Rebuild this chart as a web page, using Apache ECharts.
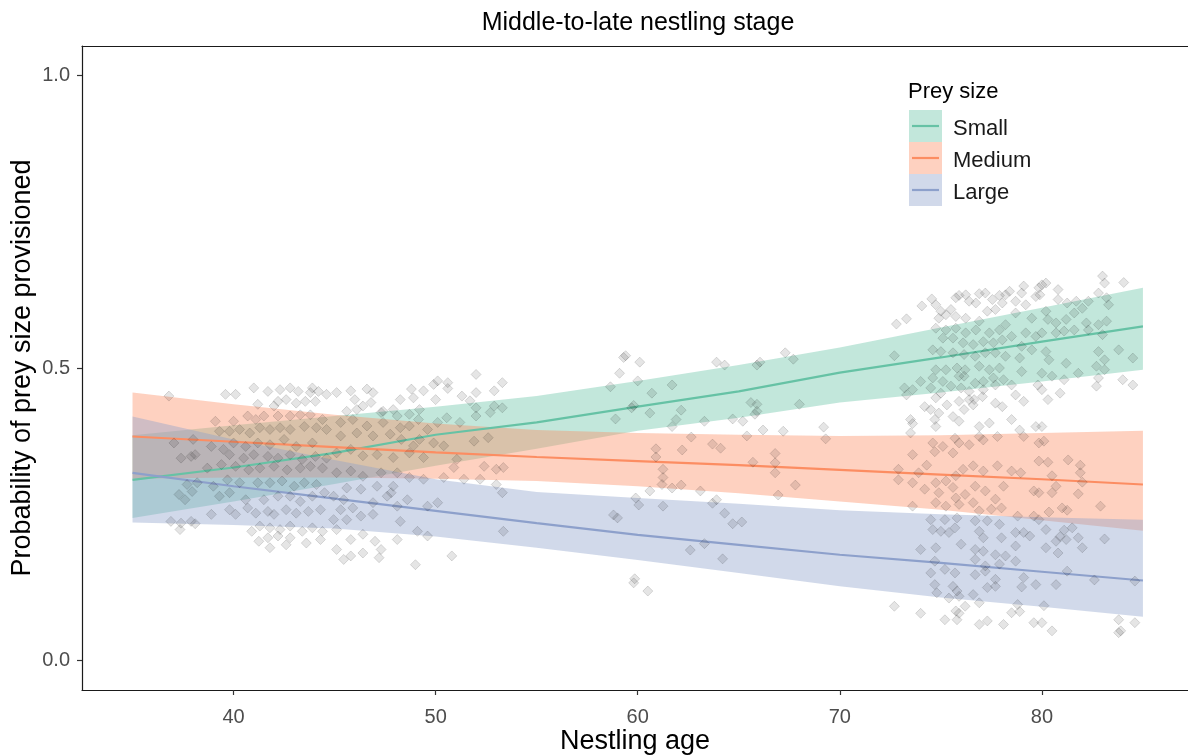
<!DOCTYPE html>
<html>
<head>
<meta charset="utf-8">
<script src="https://cdn.jsdelivr.net/npm/echarts@6/dist/echarts.min.js"></script>
<style>
html,body{margin:0;padding:0;background:#fff;}
#chart{width:1188px;height:756px;}
</style>
</head>
<body>
<div id="chart"></div>
<script>
// ---- Data ----
const chartTitle = 'Middle-to-late nestling stage';
const xTitle = 'Nestling age';
const yTitle = 'Probability of prey size provisioned';
const legendTitle = 'Prey size';
const sizeNames = ['Small', 'Medium', 'Large'];
const xTicks = [40, 50, 60, 70, 80];
const yTicks = [0, 0.5, 1];

const ages = [35, 40, 45, 50, 55, 60, 65, 70, 75, 80, 85];
const smallFit  = [0.309, 0.330, 0.355, 0.386, 0.407, 0.434, 0.460, 0.492, 0.518, 0.545, 0.571];
const smallLow  = [0.244, 0.272, 0.302, 0.333, 0.362, 0.393, 0.415, 0.441, 0.458, 0.477, 0.497];
const smallHigh = [0.385, 0.402, 0.418, 0.434, 0.452, 0.478, 0.505, 0.535, 0.569, 0.603, 0.637];
const mediumFit  = [0.383, 0.374, 0.365, 0.356, 0.348, 0.341, 0.334, 0.326, 0.318, 0.310, 0.301];
const mediumLow  = [0.311, 0.313, 0.313, 0.311, 0.307, 0.298, 0.286, 0.272, 0.258, 0.240, 0.222];
const mediumHigh = [0.458, 0.438, 0.420, 0.405, 0.394, 0.389, 0.386, 0.384, 0.385, 0.389, 0.393];
const largeFit  = [0.321, 0.298, 0.277, 0.256, 0.235, 0.215, 0.198, 0.181, 0.167, 0.152, 0.137];
const largeLow  = [0.236, 0.232, 0.226, 0.212, 0.193, 0.172, 0.150, 0.127, 0.108, 0.092, 0.075];
const largeHigh = [0.417, 0.378, 0.343, 0.310, 0.288, 0.278, 0.268, 0.257, 0.250, 0.245, 0.241];

// observed (jittered) points: [age, probability]
const observations = [
[36.8,0.452],[39.6,0.455],[40.1,0.455],[41.0,0.466],[41.7,0.460],[42.3,0.463],[42.8,0.466],[43.2,0.460],[43.8,0.458],[43.9,0.466],[44.2,0.460],[44.6,0.455],
[42.2,0.443],[42.6,0.446],[43.1,0.440],[43.55,0.443],[44.05,0.443],[41.2,0.438],[42.0,0.435],
[39.1,0.409],[40.0,0.409],[40.7,0.418],[41.1,0.412],[41.5,0.418],[42.2,0.418],[42.8,0.418],[43.3,0.420],[43.8,0.420],[44.4,0.412],
[39.3,0.392],[39.8,0.392],[40.3,0.395],[40.8,0.389],[41.3,0.398],[41.8,0.395],[42.3,0.398],[42.8,0.395],[43.5,0.400],[44.1,0.398],[44.6,0.395],
[37.05,0.372],[38.0,0.378],[38.9,0.366],[39.5,0.361],[40.0,0.372],[40.6,0.366],[41.2,0.372],[41.8,0.369],[42.5,0.378],[43.1,0.366],[43.9,0.372],
[37.4,0.346],[37.9,0.349],[38.1,0.352],[39.8,0.352],[40.5,0.346],[41.0,0.352],[41.7,0.349],[42.2,0.346],[42.8,0.352],[43.4,0.344],[44.05,0.349],[44.6,0.346],
[38.7,0.329],[39.4,0.335],[40.1,0.332],[40.75,0.326],[41.3,0.329],[42.0,0.332],[42.65,0.326],[43.3,0.329],[43.8,0.332],[44.4,0.329],
[37.7,0.301],[38.2,0.304],[39.0,0.298],[39.7,0.309],[40.3,0.304],[41.2,0.304],[41.8,0.304],[42.4,0.307],[43.0,0.298],[43.5,0.304],[44.1,0.301],
[37.3,0.284],[37.95,0.289],[37.6,0.275],[39.3,0.281],[39.8,0.287],[40.6,0.275],[41.5,0.275],[42.2,0.281],[42.8,0.281],[43.3,0.272],[43.9,0.281],[44.5,0.287],
[38.9,0.250],[39.8,0.258],[40.1,0.250],[40.7,0.261],[41.1,0.252],[41.7,0.255],[42.0,0.250],[42.6,0.258],[43.1,0.252],[43.7,0.255],[44.3,0.258],
[36.9,0.238],[37.4,0.235],[37.9,0.238],[38.1,0.234],[37.35,0.224],[40.9,0.221],[41.3,0.230],[41.8,0.227],[42.3,0.224],[42.8,0.230],[43.4,0.221],[43.9,0.227],[44.4,0.221],
[41.25,0.204],[41.7,0.210],[42.2,0.213],[42.8,0.210],[43.6,0.201],[44.3,0.207],[41.8,0.193],[42.6,0.198],
[45.1,0.458],[45.8,0.461],[46.0,0.446],[46.6,0.464],[46.9,0.458],[46.4,0.435],[45.6,0.426],[46.1,0.429],[46.8,0.441],[47.4,0.426],[48.25,0.446],[48.8,0.464],
[48.9,0.449],[49.4,0.461],[50.0,0.446],[49.9,0.472],[50.1,0.478],[50.6,0.475],[50.6,0.465],[51.3,0.452],[52.0,0.458],[52.0,0.489],[51.7,0.444],[52.9,0.461],
[53.3,0.475],[52.9,0.435],[53.3,0.432],[52.0,0.432],[49.2,0.429],[49.15,0.412],[48.7,0.421],[48.1,0.418],[47.3,0.424],[47.9,0.429],[50.55,0.415],[51.2,0.407],
[52.0,0.418],[52.7,0.424],[45.3,0.407],[45.9,0.412],[46.6,0.401],[47.4,0.407],[48.25,0.398],[48.7,0.401],[49.6,0.395],[50.1,0.407],[49.2,0.378],[49.9,0.372],
[50.4,0.367],[51.9,0.375],[52.6,0.381],[45.3,0.384],[46.1,0.389],[46.9,0.384],[47.75,0.387],[48.3,0.378],[48.9,0.367],[45.1,0.355],[45.8,0.361],[46.4,0.350],
[47.1,0.352],[47.9,0.347],[48.7,0.355],[49.4,0.347],[50.9,0.330],[51.05,0.344],[52.4,0.332],[53.0,0.327],[53.35,0.330],[53.0,0.301],[53.3,0.287],[52.2,0.310],
[51.4,0.310],[50.4,0.313],[49.4,0.310],[45.1,0.321],[45.8,0.324],[46.4,0.315],[47.3,0.321],[48.1,0.321],[48.7,0.313],[47.9,0.298],[47.8,0.287],[47.1,0.298],
[46.3,0.293],[45.6,0.295],[44.95,0.281],[45.45,0.275],[45.3,0.258],[45.9,0.261],[46.9,0.270],[47.6,0.281],[48.6,0.275],[48.1,0.264],[44.95,0.241],[45.6,0.241],
[46.3,0.247],[46.9,0.250],[45.8,0.207],[46.4,0.216],[45.1,0.224],[48.25,0.238],[49.1,0.221],[49.6,0.213],[50.1,0.270],[49.6,0.264],[53.35,0.221],[48.1,0.207],
[47.0,0.204],[47.3,0.190],[45.1,0.190],[45.8,0.179],[46.4,0.184],[45.45,0.173],[50.8,0.179],[49.0,0.164],[47.2,0.176],
[59.3,0.518],[59.4,0.521],[60.1,0.510],[59.1,0.491],[60.0,0.478],[58.65,0.468],[60.7,0.457],[61.7,0.471],[59.8,0.436],[59.7,0.432],[60.6,0.423],[58.9,0.413],
[62.15,0.428],[61.9,0.412],[61.7,0.400],[63.3,0.409],[62.65,0.382],[63.9,0.510],[64.3,0.505],[65.9,0.505],[66.05,0.510],[67.3,0.526],[67.7,0.515],[65.6,0.441],
[65.9,0.438],[68.0,0.438],[65.8,0.421],[65.9,0.426],[64.7,0.413],[65.2,0.409],[66.2,0.394],[67.2,0.392],[65.4,0.384],[69.2,0.399],[69.3,0.379],[63.7,0.370],
[64.1,0.363],[60.9,0.362],[60.9,0.348],[62.2,0.360],[61.25,0.327],[61.25,0.313],[61.2,0.301],[61.7,0.295],[62.15,0.300],[60.6,0.290],[59.9,0.278],[60.05,0.266],
[61.25,0.264],[63.1,0.290],[63.9,0.275],[63.7,0.269],[64.3,0.252],[64.7,0.234],[65.15,0.237],[65.7,0.339],[66.8,0.354],[66.8,0.338],[66.8,0.321],[67.8,0.300],
[66.95,0.283],[58.8,0.249],[59.0,0.244],[62.6,0.189],[63.3,0.200],[64.2,0.174],[59.85,0.140],[59.8,0.133],[60.5,0.119],
[72.8,0.575],[73.3,0.584],[74.06,0.606],[74.55,0.618],[74.75,0.608],[75.0,0.597],[75.25,0.591],[75.5,0.600],[75.74,0.620],[75.9,0.624],[76.23,0.625],[76.4,0.614],
[76.73,0.611],[76.9,0.627],[77.2,0.628],[77.55,0.617],[77.9,0.624],[78.04,0.611],[78.2,0.625],[77.3,0.597],[77.7,0.600],[74.9,0.585],[75.74,0.588],[76.23,0.585],
[76.9,0.580],[74.75,0.568],[75.25,0.565],[75.74,0.568],[76.23,0.560],[76.73,0.565],[77.4,0.560],[77.9,0.565],[78.2,0.574],[75.1,0.551],[75.6,0.551],[76.1,0.543],
[76.6,0.540],[77.1,0.545],[77.6,0.543],[78.04,0.548],[72.7,0.521],[74.6,0.531],[75.0,0.528],[75.6,0.526],[76.15,0.523],[76.7,0.520],[77.2,0.526],[77.7,0.526],
[78.2,0.520],[74.75,0.497],[75.25,0.497],[75.8,0.500],[76.2,0.497],[76.9,0.503],[77.4,0.497],[77.9,0.500],[74.0,0.477],[74.6,0.483],[75.1,0.477],[75.9,0.486],
[76.15,0.486],[76.7,0.474],[77.1,0.477],[77.6,0.483],[78.1,0.480],[73.2,0.466],[73.6,0.463],[74.5,0.466],[75.0,0.457],[75.5,0.469],[76.0,0.466],[76.4,0.460],
[77.1,0.463],[77.7,0.471],[73.3,0.454],[74.75,0.449],[75.3,0.437],[75.9,0.443],[76.4,0.446],[76.65,0.446],[77.06,0.451],[77.7,0.440],[78.04,0.434],[74.2,0.434],
[74.5,0.429],[74.9,0.423],[75.6,0.417],[76.15,0.429],[76.6,0.437],[73.5,0.412],[73.6,0.405],[74.7,0.412],[74.75,0.400],[75.9,0.409],[76.9,0.400],[77.4,0.406],
[73.5,0.389],[74.6,0.372],[75.1,0.366],[75.7,0.380],[75.9,0.372],[76.4,0.369],[76.9,0.383],[77.1,0.377],[77.8,0.383],[73.6,0.352],[74.7,0.357],[75.6,0.355],
[78.4,0.631],[79.1,0.640],[79.0,0.628],[78.7,0.614],[79.2,0.608],[79.7,0.622],[79.85,0.637],[80.0,0.642],[80.2,0.645],[79.9,0.625],[80.8,0.634],[80.8,0.617],
[81.25,0.611],[81.7,0.614],[82.0,0.602],[82.3,0.614],[82.8,0.628],[83.0,0.657],[83.1,0.645],[83.2,0.620],[83.3,0.608],[84.05,0.646],[78.7,0.594],[79.5,0.585],
[80.2,0.597],[80.3,0.583],[80.7,0.577],[81.2,0.583],[81.6,0.594],[82.2,0.577],[82.8,0.574],[83.2,0.580],[78.5,0.554],[79.2,0.560],[79.7,0.554],[80.0,0.560],
[80.7,0.560],[81.1,0.563],[81.6,0.565],[82.3,0.565],[83.0,0.557],[79.0,0.537],[79.5,0.531],[80.2,0.528],[80.35,0.514],[81.2,0.508],[81.8,0.491],[82.8,0.528],
[83.1,0.514],[83.8,0.531],[84.5,0.517],[78.9,0.517],[79.0,0.494],[80.0,0.491],[80.5,0.486],[81.1,0.480],[82.7,0.503],[82.8,0.483],[83.1,0.497],[84.0,0.480],
[84.5,0.471],[82.7,0.469],[78.5,0.471],[78.7,0.454],[79.1,0.443],[79.8,0.471],[80.0,0.463],[80.3,0.446],[80.9,0.457],[78.5,0.412],[78.9,0.394],[79.7,0.400],
[80.0,0.400],[79.1,0.383],[79.85,0.372],[80.1,0.375],
[74.3,0.334],[72.9,0.327],[73.9,0.321],[72.9,0.309],[73.6,0.304],[74.75,0.304],[75.25,0.307],[75.74,0.316],[76.1,0.327],[76.6,0.333],[77.1,0.324],[77.8,0.333],
[74.2,0.293],[74.9,0.287],[75.6,0.296],[75.74,0.278],[76.2,0.284],[76.7,0.298],[77.2,0.290],[77.7,0.276],[78.1,0.298],[73.6,0.264],[74.75,0.270],[75.25,0.264],
[75.9,0.267],[76.6,0.270],[76.9,0.256],[77.5,0.259],[78.0,0.261],[74.5,0.241],[75.2,0.241],[75.8,0.244],[76.7,0.239],[77.3,0.239],[77.9,0.233],[74.6,0.224],
[75.0,0.221],[75.4,0.219],[75.7,0.227],[76.9,0.221],[77.1,0.210],[78.0,0.210],[74.0,0.190],[74.75,0.193],[76.0,0.199],[76.7,0.190],[77.1,0.187],[77.7,0.181],
[78.2,0.179],[74.7,0.170],[75.2,0.156],[76.7,0.173],[77.2,0.162],[77.9,0.165],[74.5,0.150],[75.7,0.150],[76.7,0.147],[77.2,0.153],[77.7,0.139],[74.7,0.130],
[75.6,0.127],[74.8,0.116],[75.8,0.119],[76.6,0.113],[77.3,0.125],[77.7,0.127],[75.4,0.107],[75.9,0.110],[76.9,0.099],[72.7,0.093],[74.0,0.081],[75.2,0.070],
[75.74,0.085],[75.9,0.081],[76.2,0.093],[75.8,0.070],[76.9,0.062],[77.3,0.068],[78.1,0.062],
[78.5,0.324],[78.95,0.321],[79.85,0.341],[80.3,0.339],[81.3,0.343],[81.9,0.334],[81.9,0.321],[80.5,0.316],[82.0,0.305],[80.7,0.298],[79.6,0.290],[79.85,0.287],
[80.5,0.287],[81.8,0.285],[81.0,0.261],[81.25,0.257],[80.35,0.254],[82.9,0.264],[79.6,0.247],[78.8,0.247],[79.85,0.241],[80.2,0.224],[81.1,0.223],[81.5,0.227],
[81.8,0.210],[80.9,0.212],[80.7,0.204],[81.2,0.207],[78.7,0.219],[79.1,0.219],[79.4,0.213],[78.7,0.196],[78.7,0.170],[80.2,0.193],[82.0,0.193],[80.8,0.184],
[83.1,0.208],[81.25,0.153],[79.1,0.142],[79.0,0.126],[79.7,0.130],[80.7,0.130],[82.6,0.138],[84.6,0.136],[78.8,0.096],[78.5,0.082],[78.9,0.084],[80.1,0.094],
[79.6,0.065],[80.0,0.065],[80.5,0.051],[83.8,0.070],[84.6,0.065],[83.8,0.048],[83.9,0.051]
];

// ---- Styling ----
const lineColors = ['#66C2A5', '#FC8D62', '#8DA0CB'];
const bandColors = ['rgba(102,194,165,0.4)', 'rgba(252,141,98,0.4)', 'rgba(141,160,203,0.4)'];
const FONT = "'Liberation Sans', Arial, sans-serif";
const X_MIN = 32.5, X_MAX = 87.23, Y_MIN = -0.05, Y_MAX = 1.05;

const fits = [smallFit, mediumFit, largeFit];
const lows = [smallLow, mediumLow, largeLow];
const highs = [smallHigh, mediumHigh, largeHigh];

function ribbon(k) {
  return {
    type: 'custom',
    name: sizeNames[k],
    data: [0],
    silent: true,
    z: 1 + k * 0.01,
    itemStyle: { color: bandColors[k] },
    renderItem: function (params, api) {
      const pts = [];
      for (let i = 0; i < ages.length; i++) pts.push(api.coord([ages[i], highs[k][i]]));
      for (let i = ages.length - 1; i >= 0; i--) pts.push(api.coord([ages[i], lows[k][i]]));
      return { type: 'polygon', shape: { points: pts }, style: { fill: bandColors[k] } };
    }
  };
}
function fitLine(k) {
  return {
    type: 'line',
    name: sizeNames[k] + ' fit',
    data: ages.map((a, i) => [a, fits[k][i]]),
    showSymbol: false,
    silent: true,
    z: 3,
    lineStyle: { color: lineColors[k], width: 2.2 },
    itemStyle: { color: lineColors[k] }
  };
}

const chart = echarts.init(document.getElementById('chart'), null, { renderer: 'canvas' });
const legendTop = 110, legendLeft = 909, boxW = 33, boxH = 32;

chart.setOption({
  backgroundColor: '#ffffff',
  animation: false,
  textStyle: { fontFamily: FONT },
  title: [
    { text: chartTitle, left: 638, top: 11, padding: 0, textAlign: 'center',
      textStyle: { fontFamily: FONT, fontSize: 25, fontWeight: 'normal', color: '#000' } },
    { text: legendTitle, left: 908, top: 81, padding: 0,
      textStyle: { fontFamily: FONT, fontSize: 22, fontWeight: 'normal', color: '#000' } }
  ],
  legend: {
    data: sizeNames,
    orient: 'vertical',
    left: legendLeft, top: legendTop, padding: 0,
    itemWidth: boxW, itemHeight: boxH, itemGap: 0,
    icon: 'rect',
    selectedMode: false,
    formatter: '{t|{name}}',
    textStyle: {
      fontFamily: FONT, fontSize: 22, color: '#1a1a1a',
      rich: { t: { fontFamily: FONT, fontSize: 22, color: '#1a1a1a', padding: [6, 0, 0, 6] } }
    }
  },
  grid: { left: 82, right: 0, top: 46, bottom: 66, containLabel: false, outerBoundsMode: 'none' },
  xAxis: [{
    type: 'value', min: X_MIN, max: X_MAX,
    name: xTitle, nameLocation: 'middle', nameGap: 38, nameMoveOverlap: false,
    nameTextStyle: { fontFamily: FONT, fontSize: 27, color: '#000' },
    axisLine: { show: true, onZero: false, lineStyle: { color: '#1a1a1a', width: 1.2 } },
    axisTick: { show: true, length: 5, lineStyle: { color: '#333', width: 1.2 }, customValues: xTicks },
    axisLabel: { show: true, fontFamily: FONT, fontSize: 20, color: '#4d4d4d', margin: 17, customValues: xTicks },
    splitLine: { show: false }
  }, {
    type: 'value', position: 'top', min: X_MIN, max: X_MAX,
    axisLine: { show: true, onZero: false, lineStyle: { color: '#1a1a1a', width: 1.2 } },
    axisTick: { show: false }, axisLabel: { show: false }, splitLine: { show: false }
  }],
  yAxis: {
    type: 'value', min: Y_MIN, max: Y_MAX,
    name: yTitle, nameLocation: 'middle', nameGap: 46, nameRotate: 90, nameMoveOverlap: false,
    nameTextStyle: { fontFamily: FONT, fontSize: 27, color: '#000' },
    axisLine: { show: true, onZero: false, lineStyle: { color: '#1a1a1a', width: 1.2 } },
    axisTick: { show: true, length: 5, lineStyle: { color: '#333', width: 1.2 }, customValues: yTicks },
    axisLabel: { show: true, fontFamily: FONT, fontSize: 20, color: '#4d4d4d', margin: 12,
      customValues: yTicks, formatter: v => Number(v).toFixed(1) },
    splitLine: { show: false }
  },
  graphic: sizeNames.map((n, k) => ({
    type: 'line', z: 100,
    shape: { x1: legendLeft + 3, y1: legendTop + boxH * k + boxH / 2, x2: legendLeft + boxW - 3, y2: legendTop + boxH * k + boxH / 2 },
    style: { stroke: lineColors[k], lineWidth: 2.2 }
  })),
  series: [
    ribbon(0), ribbon(1), ribbon(2),
    fitLine(0), fitLine(1), fitLine(2),
    {
      type: 'scatter', name: 'observed', data: observations, silent: true,
      symbol: 'diamond', symbolSize: 10, z: 4,
      itemStyle: { color: 'rgba(0,0,0,0.13)', borderColor: 'rgba(0,0,0,0.17)', borderWidth: 1 }
    }
  ]
});
</script>
</body>
</html>
